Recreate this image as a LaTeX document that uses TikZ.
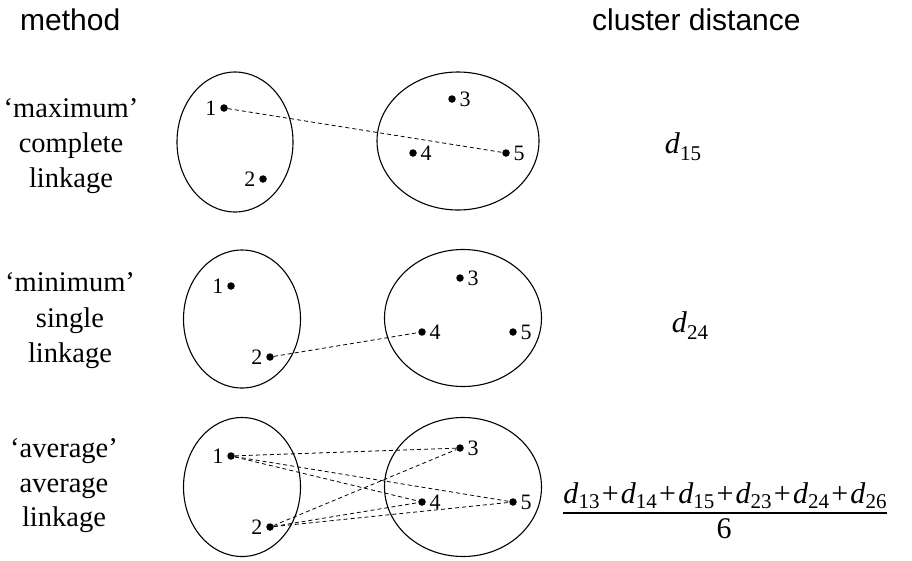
\documentclass[tikz,border=0pt]{standalone}
\usepackage{fontspec}
\setmainfont{Liberation Serif}
\setsansfont{Liberation Sans}
\usetikzlibrary{shapes.geometric}
\newcommand\dsub[2][7pt]{\textit{d}\raisebox{-#1}{\fontsize{21}{24}\selectfont #2}}
\newcommand\pls{\kern2.2pt+\kern2.2pt}
\tikzset{
  hdr/.style={font=\fontsize{30}{36}\selectfont\sffamily, anchor=base west, inner sep=0pt},
  meth/.style={font=\fontsize{28.5}{34}\selectfont, anchor=base, inner sep=0pt},
  clus/.style={draw, ellipse, line width=1.1pt, inner sep=0pt},
  pt/.style={circle, fill, inner sep=0pt, minimum size=7.5pt},
  lk/.style={dashed, dash pattern=on 4pt off 3pt, line width=0.8pt},
  dist/.style={font=\fontsize{30}{36}\selectfont, anchor=base, inner sep=0pt},
  lL/.style={label={[font=\fontsize{22}{26}\selectfont, inner sep=1pt, label distance=2.5pt]left:#1}},
  lR/.style={label={[font=\fontsize{22}{26}\selectfont, inner sep=1pt, label distance=2.5pt]right:#1}},
}
\begin{document}
\begin{tikzpicture}[x=1pt, y=-1pt]
\useasboundingbox (0,0) rectangle (912,560);
% headers
\node[hdr] (hm) at (20,30) {method};
\node[hdr] (hc) at (592,30) {cluster distance};
% method labels
\node[meth] (m1a) at (71,117) {‘maximum’};
\node[meth] (m1b) at (71,152) {complete};
\node[meth] (m1c) at (71,187) {linkage};
\node[meth] (m2a) at (70,291) {‘minimum’};
\node[meth] (m2b) at (70,327) {single};
\node[meth] (m2c) at (70,362) {linkage};
\node[meth] (m3a) at (64,457) {‘average’};
\node[meth] (m3b) at (64,492) {average};
\node[meth] (m3c) at (64,526) {linkage};
% row 1
\node[clus, minimum width=116pt, minimum height=140pt] (L1) at (235,142) {};
\node[clus, minimum width=162pt, minimum height=138pt] (R1) at (458,141) {};
\node[pt, lL=1] (a1) at (224,108) {};
\node[pt, lL=2] (a2) at (263,179) {};
\node[pt, lR=3] (a3) at (452,99) {};
\node[pt, lR=4] (a4) at (413,153) {};
\node[pt, lR=5] (a5) at (506,153) {};
\draw[lk] (a1) -- (a5);
% row 2
\node[clus, minimum width=117pt, minimum height=138pt] (L2) at (242,319) {};
\node[clus, minimum width=157pt, minimum height=137pt] (R2) at (463,318) {};
\node[pt, lL=1] (b1) at (231,286) {};
\node[pt, lL=2] (b2) at (270,357) {};
\node[pt, lR=3] (b3) at (460,278) {};
\node[pt, lR=4] (b4) at (422,332) {};
\node[pt, lR=5] (b5) at (513,332) {};
\draw[lk] (b2) -- (b4);
% row 3
\node[clus, minimum width=117pt, minimum height=139pt] (L3) at (242,487) {};
\node[clus, minimum width=157pt, minimum height=139pt] (R3) at (463,487) {};
\node[pt, lL=1] (c1) at (231,456) {};
\node[pt, lL=2] (c2) at (270,527) {};
\node[pt, lR=3] (c3) at (460,448) {};
\node[pt, lR=4] (c4) at (422,502) {};
\node[pt, lR=5] (c5) at (513,502) {};
\draw[lk] (c1) -- (c3);
\draw[lk] (c1) -- (c4);
\draw[lk] (c1) -- (c5);
\draw[lk] (c2) -- (c3);
\draw[lk] (c2) -- (c4);
\draw[lk] (c2) -- (c5);
% distances
\node[dist] (d15) at (683,153) {\dsub{15}};
\node[dist] (d24) at (690,332) {\dsub{24}};
\node[dist] (num) at (725,503) {\dsub[5pt]{13}\pls\dsub[5pt]{14}\pls\dsub[5pt]{15}\pls\dsub[5pt]{23}\pls\dsub[5pt]{24}\pls\dsub[5pt]{26}};
\node[dist] (den) at (724,538) {6};
\coordinate (bl) at (num.west |- 0,513);
\coordinate (br) at (num.east |- 0,513);
\draw[line width=1.2pt] (bl) -- (br);
\end{tikzpicture}
\end{document}
